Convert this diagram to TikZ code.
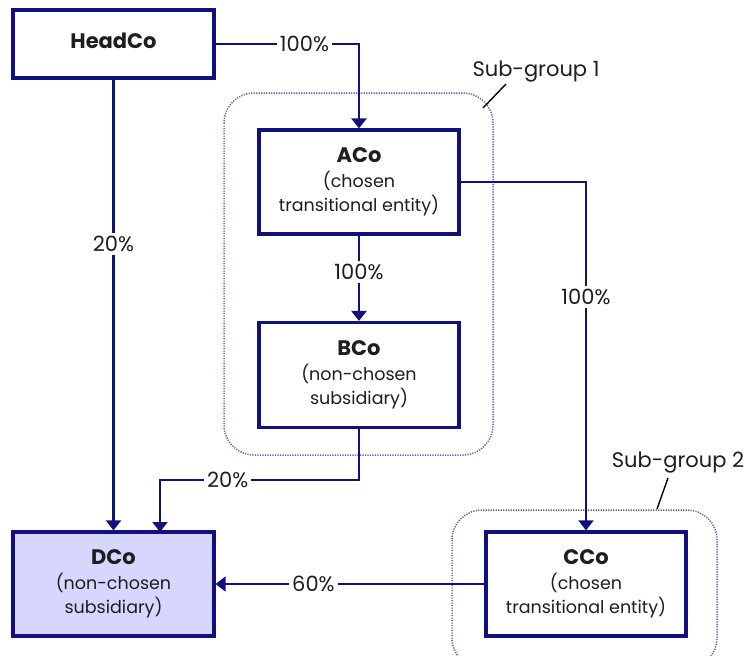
\documentclass[tikz,border=0pt]{standalone}
\usepackage{fontspec}
\setmainfont{Poppins}
\usetikzlibrary{arrows.meta}
\definecolor{navy}{RGB}{16,16,128}
\definecolor{dotc}{RGB}{95,95,180}
\definecolor{dfill}{RGB}{214,214,255}
\definecolor{txt}{RGB}{30,30,30}
\begin{document}
\begin{tikzpicture}[x=1pt,y=-1pt,
  box/.style={draw=navy, line width=3.2pt, fill=white, minimum width=200pt, minimum height=104pt,
    align=center, text=txt, font=\fontsize{17.5}{24.5}\selectfont, inner sep=0pt},
  conn/.style={draw=navy, line width=2.4pt},
  thin conn/.style={line width=1.9pt},
  arr/.style={conn, -{Triangle[width=15pt,length=10pt]}},
  lab/.style={fill=white, text=txt, font=\fontsize{21}{24}\selectfont, inner sep=3pt},
  grp/.style={draw=dotc, line width=1.5pt, dash pattern=on 1.2pt off 1.3pt, rounded corners=30pt},
  glab/.style={text=txt, font=\fontsize{21}{24}\selectfont, inner sep=0pt},
  lead/.style={draw=black, line width=1.4pt}
]
\clip (0,0) rectangle (748,656);
\fill[white] (0,0) rectangle (748,656);
% group outlines
\draw[grp] (224,93) rectangle (493,455);
\draw[grp] (452,510) rectangle (717,668);
% boxes
\node[box, minimum width=201pt, minimum height=68pt] (hc) at (113.5,44) {\raisebox{7pt}{\fontsize{21}{24.5}\selectfont\textbf{HeadCo}}};
\node[box] (aco) at (359,182) {{\fontsize{21}{24.5}\selectfont\textbf{ACo}}\\(chosen\\transitional entity)};
\node[box, minimum height=105pt] (bco) at (359,375) {{\fontsize{21}{24.5}\selectfont\textbf{BCo}}\\(non-chosen\\subsidiary)};
\node[box, fill=dfill, minimum width=201pt] (dco) at (113.5,584) {{\fontsize{21}{24.5}\selectfont\textbf{DCo}}\\(non-chosen\\subsidiary)};
\node[box] (cco) at (586,584) {{\fontsize{21}{24.5}\selectfont\textbf{CCo}}\\(chosen\\transitional entity)};
% corner coordinates
\coordinate (c1) at (359,44);
\coordinate (c2) at (586,182);
\coordinate (c3) at (359,480);
\coordinate (c4) at (160,480);
\coordinate (c5) at (160,532);
% connectors
\draw[arr] (hc.east) -- node[lab, pos=0.62] (l1) {100\%} (c1) -- (aco.north);
\draw[arr] (hc.south) -- node[lab, pos=0.365] (l2) {20\%} (dco.north);
\draw[arr] (aco.south) -- node[lab, pos=0.43] (l3) {100\%} (bco.north);
\draw[arr, thin conn] (aco.east) -- (c2) -- node[lab, pos=0.33] (l4) {100\%} (cco.north);
\draw[arr] (bco.south) -- (c3) -- node[lab, pos=0.66] (l5) {20\%} (c4) -- (c5);
\draw[arr, thin conn] (cco.west) -- node[lab, pos=0.636] (l6) {60\%} (dco.east);
% group labels
\node[glab] (g1) at (536,72) {Sub-group 1};
\node[glab] (g2) at (678,463) {Sub-group 2};
\coordinate (g1a) at (506,84);
\coordinate (g1b) at (483,108);
\coordinate (g2a) at (668,478);
\coordinate (g2b) at (657,509);
\draw[lead] (g1a) -- (g1b);
\draw[lead] (g2a) -- (g2b);
\end{tikzpicture}
\end{document}
